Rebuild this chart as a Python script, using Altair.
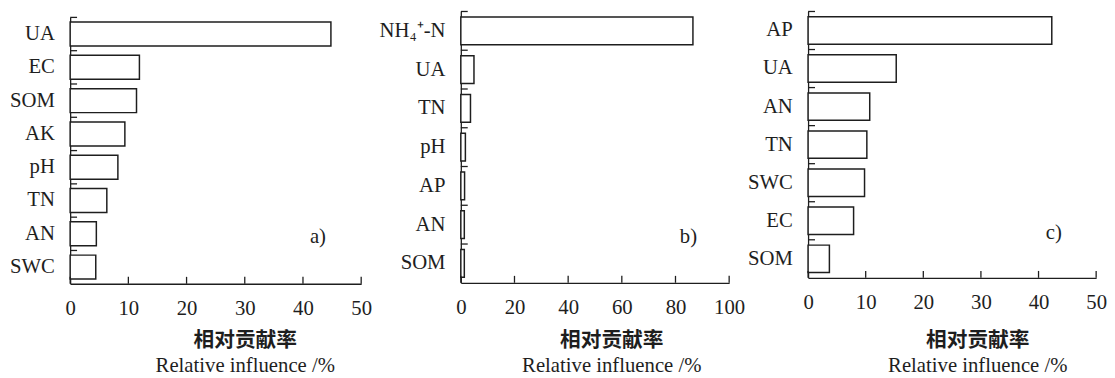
import altair as alt
import pandas as pd

# ---- data ----
a_cats = ["UA", "EC", "SOM", "AK", "pH", "TN", "AN", "SWC"]
a_vals = [44.8, 11.9, 11.4, 9.4, 8.2, 6.3, 4.5, 4.4]
b_cats = ["NH₄⁺-N", "UA", "TN", "pH", "AP", "AN", "SOM"]
b_vals = [86.5, 4.9, 3.6, 1.7, 1.4, 1.3, 1.3]
c_cats = ["AP", "UA", "AN", "TN", "SWC", "EC", "SOM"]
c_vals = [42.3, 15.3, 10.7, 10.2, 9.8, 7.9, 3.7]
a_ticks = [0, 10, 20, 30, 40, 50]
b_ticks = [0, 20, 40, 60, 80, 100]
c_ticks = [0, 10, 20, 30, 40, 50]
panel_labels = ["a)", "b)", "c)"]
title_cn = "相对贡献率"
title_en = "Relative influence /%"

SERIF = "Liberation Serif"
CJK = "Noto Sans CJK SC"
INK = "#1e1e1e"
LFS = 21


def panel(cats, vals, ticks, xmax, label, w, h, lx, ly, dx, toff, top=0):
    df = pd.DataFrame({"factor": cats, "value": vals})

    def yenc(bp=None):
        sc = dict(paddingInner=0, paddingOuter=0)
        if top:
            sc["range"] = [top, h]
        kw = dict(sort=cats, title=None,
                  scale=alt.Scale(**sc),
                  axis=alt.Axis(ticks=False, tickSize=0, labelPadding=16,
                                labelFont=SERIF, labelFontSize=LFS,
                                labelColor=INK, domainColor=INK,
                                domainWidth=1.3, labelLimit=0))
        if bp is not None:
            kw["bandPosition"] = bp
        return alt.Y("factor:N", **kw)

    def xenc(field):
        return alt.X(field, title=None,
                     scale=alt.Scale(domain=[0, xmax], nice=False, zero=True),
                     axis=alt.Axis(values=ticks, ticks=False, tickSize=0,
                                   labelPadding=14, grid=False,
                                   labelFont=SERIF, labelFontSize=LFS,
                                   labelColor=INK, domainColor=INK,
                                   domainWidth=1.3, labelFlush=False))

    bars = alt.Chart(df).mark_bar(
        fill="white", stroke=INK, strokeWidth=1.5,
        height=alt.RelativeBandSize(0.72)
    ).encode(x=xenc("value:Q"), y=yenc())

    ytk = alt.Chart(df).mark_rule(color=INK, strokeWidth=1.3).encode(
        y=yenc(0), x=alt.value(0), x2=alt.value(7))

    xtk = alt.Chart(pd.DataFrame({"t": ticks})).mark_rule(
        color=INK, strokeWidth=1.3).encode(
        x=xenc("t:Q"), y=alt.value(h), y2=alt.value(h - 7))

    lab = alt.Chart(pd.DataFrame({"l": [label]})).mark_text(
        font=SERIF, fontSize=21, align="left", baseline="middle", color=INK
    ).encode(text="l:N", x=alt.value(lx), y=alt.value(ly))

    return alt.layer(bars, ytk, xtk, lab).properties(
        width=w, height=h,
        title=alt.TitleParams(
            text=title_cn, subtitle=title_en, orient="bottom",
            anchor="middle", frame="group", dx=dx, offset=toff,
            font=CJK, fontSize=21, fontWeight="bold", color=INK,
            subtitleFont=SERIF, subtitleFontSize=21, subtitleColor=INK,
            subtitlePadding=4)
    )


pa = panel(a_cats, a_vals, a_ticks, 50, panel_labels[0], 295, 276, 243, 229, 30, 12, top=6)
pb = panel(b_cats, b_vals, b_ticks, 100, panel_labels[1], 272, 275, 222, 229, 17, 13)
pc = panel(c_cats, c_vals, c_ticks, 50, panel_labels[2], 292, 270, 241, 225, 26, 18)

chart = alt.hconcat(pa, alt.hconcat(pb, pc, spacing=2), spacing=7).properties(
    padding={"left": 1, "top": 0, "right": 0, "bottom": 0}
).configure_view(stroke=None)

chart.save("out.html", embed_options={"renderer": "svg", "actions": False})
